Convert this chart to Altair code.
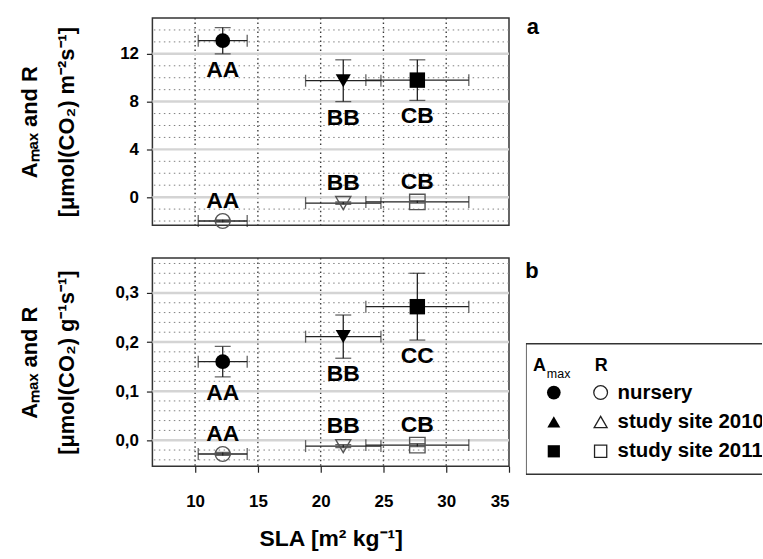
import altair as alt
import pandas as pd

FONT = "Liberation Sans"

# ---------------- data ----------------
groups = ["nursery", "study site 2010", "study site 2011"]
sla = [12.2, 21.8, 27.7]
sla_err = [1.95, 3.0, 4.1]

# panel a: area based
a_amax = [13.1, 9.75, 9.8]
a_amax_err = [1.1, 1.75, 1.7]
a_r = [-2.0, -0.5, -0.4]
a_r_err = [0.1, 0.1, 0.1]
a_amax_letters = ["AA", "BB", "CB"]
a_r_letters = ["AA", "BB", "CB"]

# panel b: mass based
b_amax = [0.16, 0.211, 0.272]
b_amax_err = [0.031, 0.044, 0.068]
b_r = [-0.028, -0.012, -0.010]
b_r_err = [0.003, 0.003, 0.003]
b_amax_letters = ["AA", "BB", "CC"]
b_r_letters = ["AA", "BB", "CB"]

x_ticks = [10, 15, 20, 25, 30, 35]
a_yticks = [0, 4, 8, 12]
a_yminor = [-2, -1, 1, 2, 3, 5, 6, 7, 9, 10, 11, 13, 14]
b_yticks = [0.0, 0.1, 0.2, 0.3]
b_yminor = [-0.04, -0.02, 0.02, 0.04, 0.06, 0.08, 0.12, 0.14, 0.16, 0.18,
            0.22, 0.24, 0.26, 0.28, 0.32, 0.34, 0.36]

plot_shapes = ["circle", "triangle-down", "square"]
legend_shapes = ["circle", "triangle-up", "square"]
shape_sizes = [220, 240, 150]


def make_df(amax, amax_err, r, r_err, amax_let, r_let):
    rows = []
    for i, g in enumerate(groups):
        rows.append({"group": g, "kind": "Amax", "sla": sla[i], "sla_err": sla_err[i],
                     "val": amax[i], "err": amax_err[i], "letter": amax_let[i]})
        rows.append({"group": g, "kind": "R", "sla": sla[i], "sla_err": sla_err[i],
                     "val": r[i], "err": r_err[i], "letter": r_let[i]})
    return pd.DataFrame(rows)


def panel(df, ydomain, yticks, yminor, ytitle, show_x, tag, height, label_expr=None):
    xscale = alt.Scale(domain=[6.6, 35], nice=False, zero=False)
    yscale = alt.Scale(domain=ydomain, nice=False, zero=False)
    if show_x:
        xaxis = alt.Axis(values=x_ticks, title="SLA [m² kg⁻¹]", grid=False, domain=False,
                         tickSize=6, tickColor="#222", tickWidth=1.2,
                         labelFont=FONT, labelFontSize=17, labelFontWeight="bold",
                         labelColor="black", labelPadding=21,
                         titleFont=FONT, titleFontSize=23, titleFontWeight="bold",
                         titleColor="black", titlePadding=19)
    else:
        xaxis = None
    ykw = dict(values=yticks, grid=False, domain=False, tickSize=6, tickColor="#222",
               tickWidth=1.2, labelFont=FONT, labelFontSize=17, labelFontWeight="bold",
               labelColor="black", labelPadding=8, title=ytitle, titleFont=FONT,
               titleFontSize=22, titleFontWeight="bold", titleColor="black",
               titleLineHeight=37, titlePadding=12, minExtent=62, maxExtent=62)
    if label_expr:
        ykw["labelExpr"] = label_expr
    yaxis = alt.Axis(**ykw)

    def X(f):
        return alt.X(f, type="quantitative", scale=xscale, axis=xaxis)

    def Y(f):
        return alt.Y(f, type="quantitative", scale=yscale, axis=yaxis)

    shape = alt.Shape("group:N", scale=alt.Scale(domain=groups, range=plot_shapes), legend=None)
    size = alt.Size("group:N", scale=alt.Scale(domain=groups, range=shape_sizes), legend=None)

    base = alt.Chart(df).transform_calculate(
        sla_lo="datum.sla - datum.sla_err", sla_hi="datum.sla + datum.sla_err",
        lo="datum.val - datum.err", hi="datum.val + datum.err")

    vgrid = alt.Chart(pd.DataFrame({"v": x_ticks[:-1]})).mark_rule(
        color="#3a3a3a", strokeDash=[1.5, 3], strokeWidth=1.4).encode(x=X("v"))
    hmajor = alt.Chart(pd.DataFrame({"v": yticks})).mark_rule(
        color="#d4d4d4", strokeWidth=2.5).encode(y=Y("v"))
    hminor = alt.Chart(pd.DataFrame({"v": yminor})).mark_rule(
        color="#808080", strokeDash=[1.5, 3.5], strokeWidth=1).encode(y=Y("v"))

    lc = "#222"
    hbar = base.mark_rule(color=lc, strokeWidth=1.3).encode(
        x=X("sla_lo"), x2=alt.X2("sla_hi:Q"), y=Y("val"))
    vbar = base.mark_rule(color=lc, strokeWidth=1.3).encode(
        x=X("sla"), y=Y("lo"), y2=alt.Y2("hi:Q"))
    cap_l = base.mark_tick(orient="vertical", size=12, thickness=1.3, color=lc).encode(
        x=X("sla_lo"), y=Y("val"))
    cap_r = base.mark_tick(orient="vertical", size=12, thickness=1.3, color=lc).encode(
        x=X("sla_hi"), y=Y("val"))
    cap_b = base.mark_tick(orient="horizontal", size=16, thickness=1.3, color=lc).encode(
        x=X("sla"), y=Y("lo"))
    cap_t = base.mark_tick(orient="horizontal", size=16, thickness=1.3, color=lc).encode(
        x=X("sla"), y=Y("hi"))

    amax_pts = base.transform_filter("datum.kind == 'Amax'").mark_point(
        filled=True, opacity=1, color="black").encode(
        x=X("sla"), y=Y("val"), shape=shape, size=size)
    r_pts = base.transform_filter("datum.kind == 'R'").mark_point(
        filled=False, opacity=1, color="#555", strokeWidth=1.4).encode(
        x=X("sla"), y=Y("val"), shape=shape, size=size)

    amax_txt = base.transform_filter("datum.kind == 'Amax'").mark_text(
        font=FONT, fontSize=23, fontWeight="bold", baseline="middle", dy=16,
        color="black").encode(x=X("sla"), y=Y("lo"), text="letter:N")
    r_txt = base.transform_filter("datum.kind == 'R'").mark_text(
        font=FONT, fontSize=23, fontWeight="bold", baseline="middle", dy=-20,
        color="black").encode(x=X("sla"), y=Y("val"), text="letter:N")

    layers = [vgrid, hmajor, hminor, hbar, vbar, cap_l, cap_r, cap_b, cap_t,
              amax_pts, r_pts, amax_txt, r_txt]
    if tag:
        layers.append(alt.Chart(pd.DataFrame({"t": [tag]})).mark_text(
            font=FONT, fontSize=22, fontWeight="bold", align="center",
            baseline="middle", color="black").encode(
            x=alt.value(382), y=alt.value(9), text="t:N"))
    return alt.layer(*layers).properties(width=358, height=height)


panel_a = panel(make_df(a_amax, a_amax_err, a_r, a_r_err, a_amax_letters, a_r_letters),
                [-2.35, 15], a_yticks, a_yminor,
                ["Aₘₐₓ and R", "[μmol(CO₂) m⁻²s⁻¹]"], False, "a", 208)

panel_b = panel(make_df(b_amax, b_amax_err, b_r, b_r_err, b_amax_letters, b_r_letters),
                [-0.053, 0.371], b_yticks, b_yminor,
                ["Aₘₐₓ and R", "[μmol(CO₂) g⁻¹s⁻¹]"], True, None, 209,
                label_expr="replace(format(datum.value, '.1f'), '.', ',')")

# ---------------- legend panel ----------------
leg_df = pd.DataFrame({"label": groups, "row": [1, 2, 3]})
Yrow = alt.Y("row:Q", scale=alt.Scale(domain=[1, 3], range=[135, 194]), axis=None)
leg_shape = alt.Shape("label:N", scale=alt.Scale(domain=groups, range=legend_shapes), legend=None)
leg_size = alt.Size("label:N", scale=alt.Scale(domain=groups, range=[190, 150, 130]), legend=None)

box = alt.Chart(pd.DataFrame({"k": [0]})).mark_rect(
    fill="white", stroke="#333", strokeWidth=1.5, clip=True).encode(
    x=alt.value(0), x2=alt.value(260), y=alt.value(86), y2=alt.value(217))
leg_filled = alt.Chart(leg_df).mark_point(filled=True, opacity=1, color="black").encode(
    x=alt.value(28), y=Yrow, shape=leg_shape, size=leg_size)
leg_open = alt.Chart(leg_df).mark_point(filled=False, opacity=1, color="#222", strokeWidth=1.3).encode(
    x=alt.value(75), y=Yrow, shape=leg_shape, size=leg_size)
leg_text = alt.Chart(leg_df).mark_text(
    font=FONT, fontSize=20.5, fontWeight="bold", align="left", baseline="middle",
    color="black", clip=True).encode(x=alt.value(92), y=Yrow, text="label:N")
hdr = pd.DataFrame({"t": ["A", "max", "R"]})
hdr_A = alt.Chart(hdr).transform_filter("datum.t == 'A'").mark_text(
    font=FONT, fontSize=18, fontWeight="bold", align="left", baseline="middle",
    color="black").encode(x=alt.value(7), y=alt.value(108), text="t:N")
hdr_max = alt.Chart(hdr).transform_filter("datum.t == 'max'").mark_text(
    font=FONT, fontSize=12.5, align="left", baseline="middle",
    color="black").encode(x=alt.value(21), y=alt.value(116), text="t:N")
hdr_R = alt.Chart(hdr).transform_filter("datum.t == 'R'").mark_text(
    font=FONT, fontSize=18, fontWeight="bold", align="left", baseline="middle",
    color="black").encode(x=alt.value(69), y=alt.value(108), text="t:N")
tag_b = alt.Chart(pd.DataFrame({"t": ["b"]})).mark_text(
    font=FONT, fontSize=22, fontWeight="bold", align="center", baseline="middle",
    color="black").encode(x=alt.value(6), y=alt.value(13), text="t:N")

legend = alt.layer(box, leg_filled, leg_open, leg_text, hdr_A, hdr_max, hdr_R, tag_b).properties(
    width=237, height=220, view=alt.ViewBackground(stroke="transparent"))

row_b = alt.hconcat(panel_b, legend, spacing=13).resolve_scale(
    shape="independent", size="independent")

chart = alt.vconcat(panel_a, row_b, spacing=24).resolve_scale(
    shape="independent", size="independent").properties(
    padding={"left": 18, "top": 14, "right": 0, "bottom": 0},
    background="white").configure(font=FONT).configure_view(
    stroke="#333", strokeWidth=1.5)

chart.save("out.html", embed_options={"renderer": "svg", "actions": False})
